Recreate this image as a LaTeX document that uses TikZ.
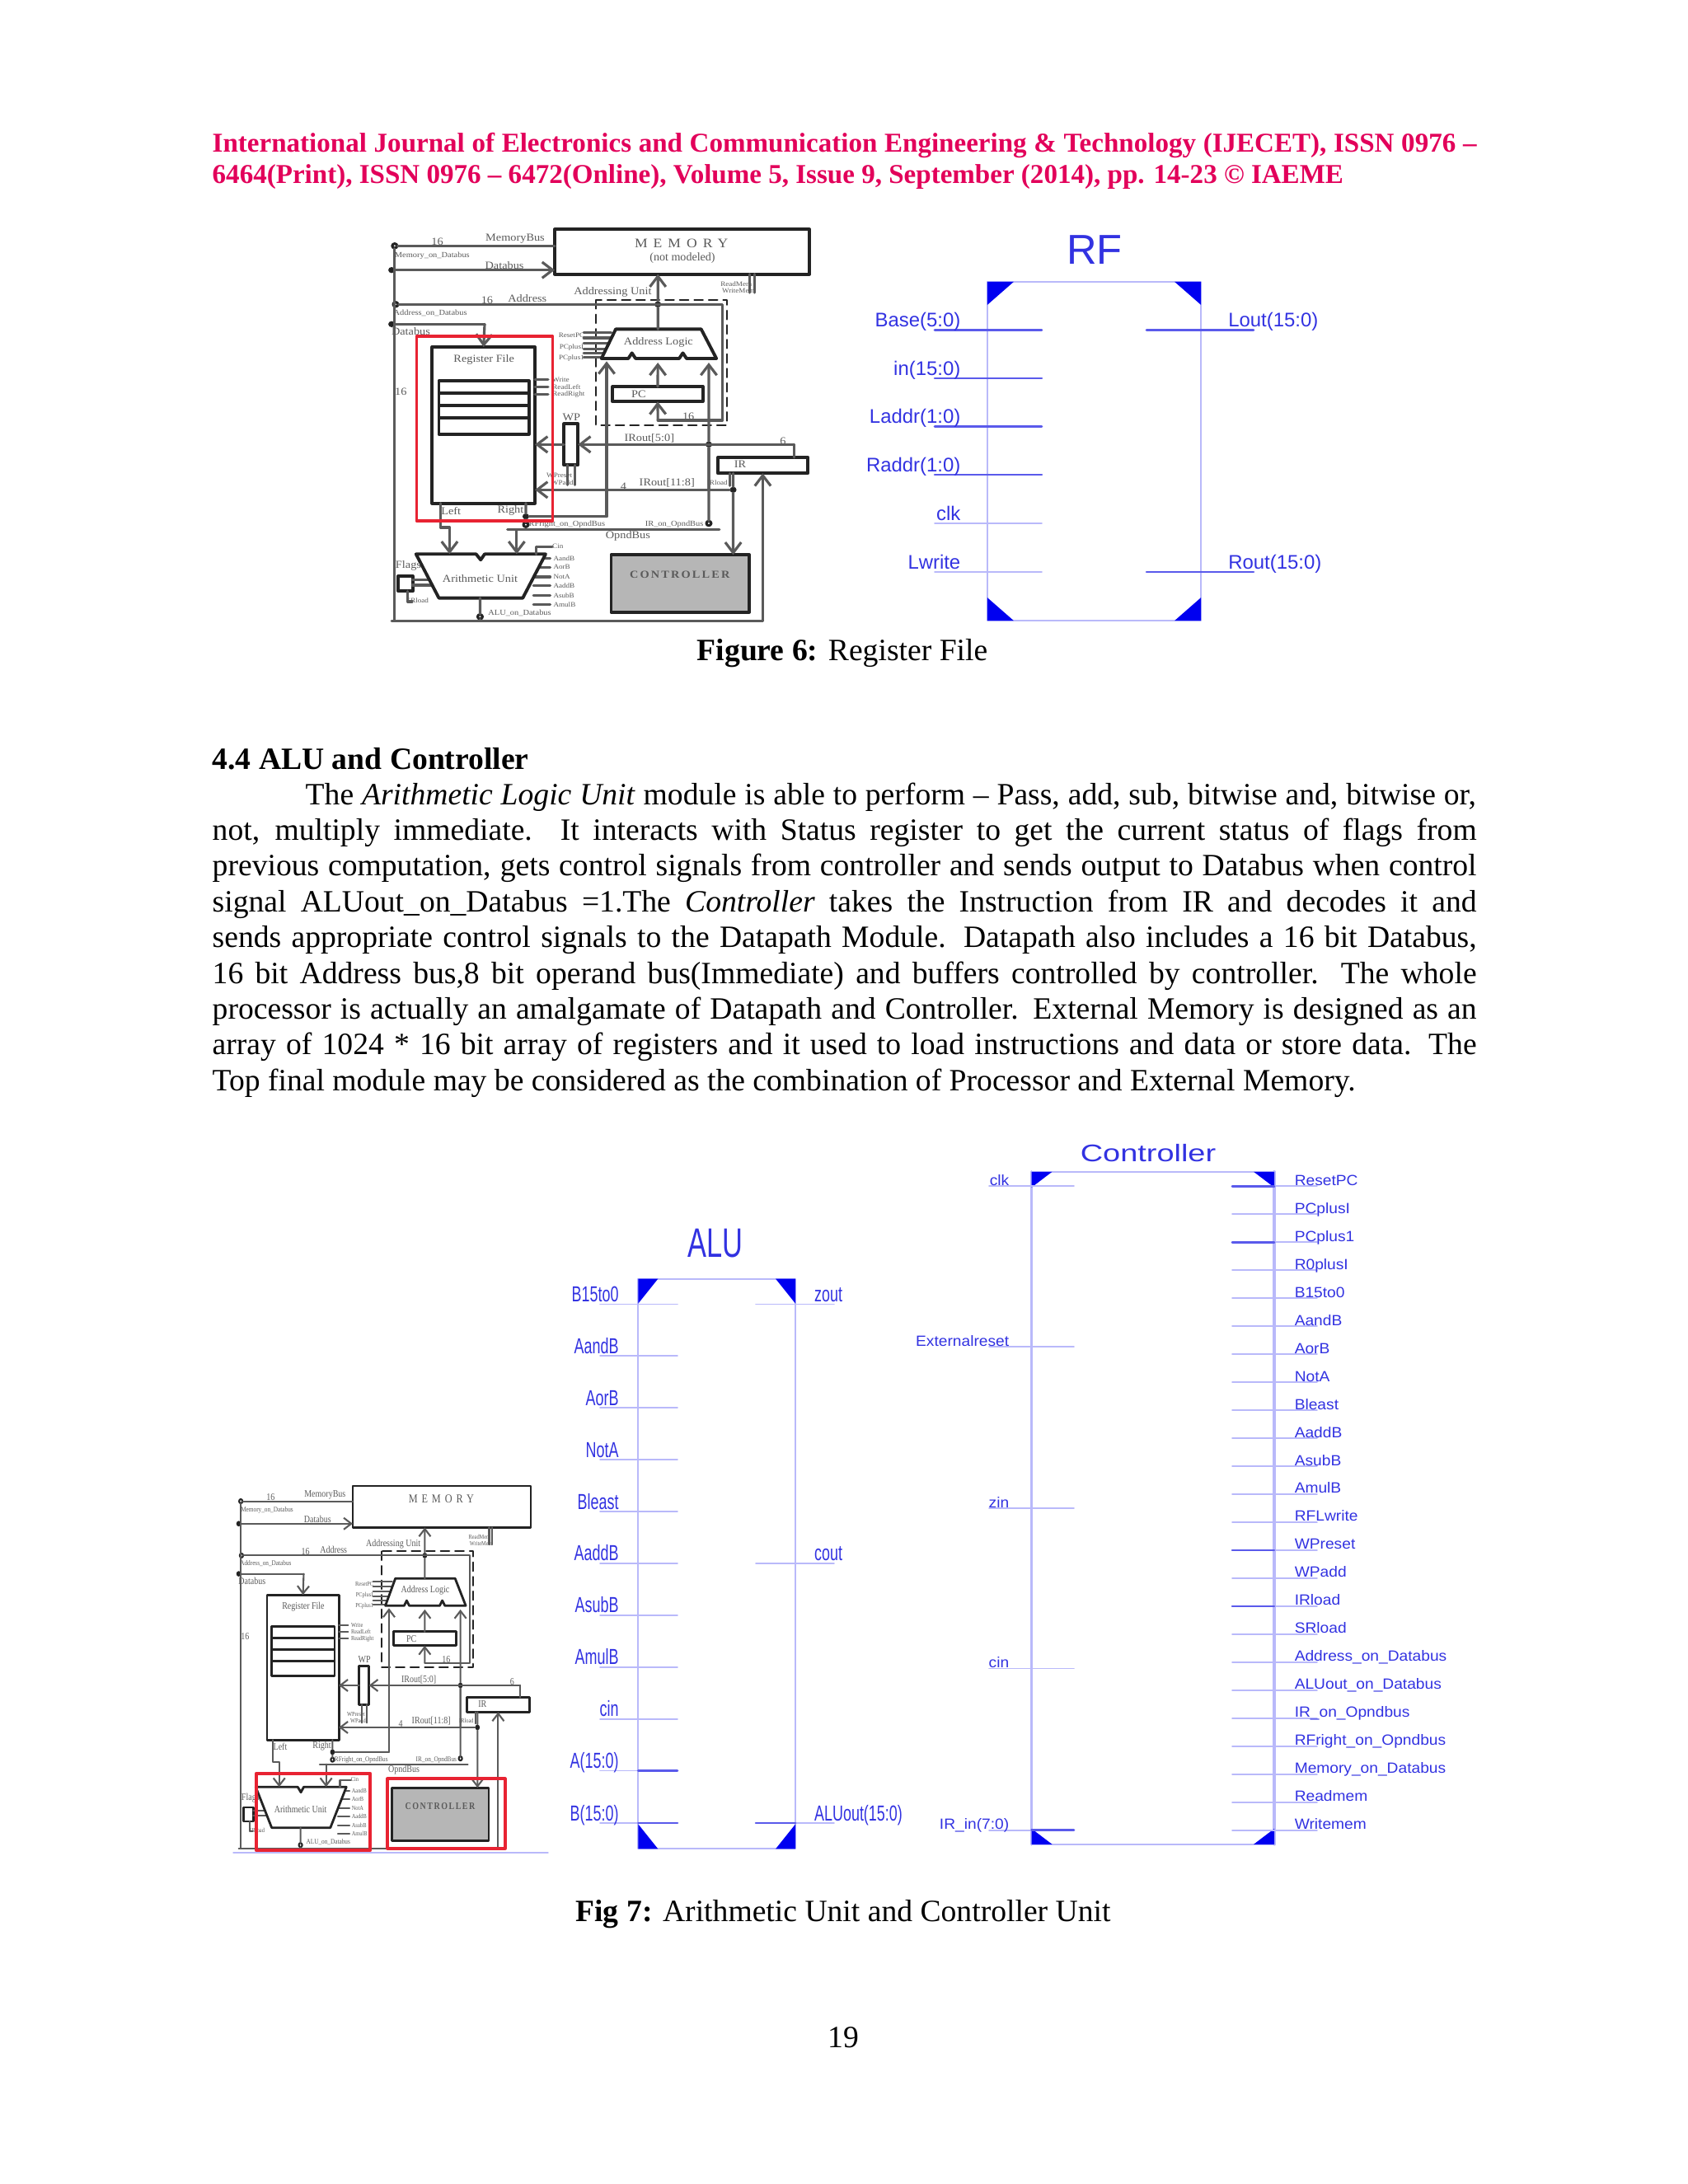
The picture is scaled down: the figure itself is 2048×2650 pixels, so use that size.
\documentclass[tikz,border=0pt]{standalone}
\usepackage{fontspec}
\setmainfont{Liberation Serif}
\newfontfamily\symfont{Liberation Sans}
\usetikzlibrary{arrows.meta}
\definecolor{headpink}{RGB}{226,0,90}
\definecolor{symblue}{RGB}{0,0,240}
\definecolor{symtext}{RGB}{50,50,225}
\definecolor{symline}{RGB}{185,185,250}
\definecolor{symbus}{RGB}{90,90,235}
\definecolor{dpgray}{RGB}{90,90,90}
\definecolor{dpdark}{RGB}{35,35,35}
\definecolor{dpfill}{RGB}{182,182,182}
\definecolor{markred}{RGB}{232,35,50}
\newcommand{\symcorners}[3]{%
\fill[symblue] (#1.north west) -- ++(#2,0) -- ++(-#2,#3) -- cycle;
\fill[symblue] (#1.north east) -- ++(-#2,0) -- ++(#2,#3) -- cycle;
\fill[symblue] (#1.south west) -- ++(#2,0) -- ++(-#2,-#3) -- cycle;
\fill[symblue] (#1.south east) -- ++(-#2,0) -- ++(#2,-#3) -- cycle;
}
\tikzset{
dpw/.store in=\dpw,dpw=.9pt,
dpb/.store in=\dpb,dpb=1.1pt,
dpwire/.style={draw=dpgray,line width=\dpw},
dpbox/.style={draw=dpdark,line width=\dpb,fill=white,inner sep=0pt,outer sep=0pt},
dpdash/.style={draw=dpdark,line width=.6pt,densely dashed},
dptext/.style={text=dpgray,inner sep=0pt,font=\fontsize{11}{12}\selectfont},
dplong/.style={text=dpgray,inner sep=0pt,font=\fontsize{8}{9}\selectfont},
dpsmall/.style={text=dpgray,inner sep=0pt,font=\fontsize{7}{8}\selectfont},
dpdot/.style={circle,fill=dpdark,inner sep=0pt,minimum size=.22cm},
dpring/.style={circle,draw=dpdark,fill=white,line width=\dpw,inner sep=0pt,minimum size=.16cm},
redbox/.style={draw=markred,line width=1.05pt,inner sep=0pt,outer sep=0pt},
symbox/.style={draw=symline,line width=.5pt,inner sep=0pt,outer sep=0pt},
symstub/.style={draw=symline,line width=.5pt},
symside/.style={draw=symline,line width=1pt},
symthick/.style={draw=symbus,line width=.75pt},
symrf/.style={text=symtext,inner sep=0pt,font=\symfont\fontsize{6.8}{8}\selectfont},
symalu/.style={text=symtext,inner sep=0pt,xscale=.68,transform shape,font=\symfont\fontsize{7.5}{9}\selectfont},
symctl/.style={text=symtext,inner sep=0pt,xscale=1.07,transform shape,font=\symfont\fontsize{5.1}{6}\selectfont},
bodyline/.style={anchor=base west,inner sep=0pt,font=\fontsize{10.7}{13}\selectfont},
headline/.style={anchor=base west,inner sep=0pt,text=headpink,font=\bfseries\fontsize{9.4}{11}\selectfont},
capline/.style={inner sep=0pt,font=\fontsize{10.7}{13}\selectfont},
datapath/.pic={
\begin{scope}[transform shape]
\coordinate (leftbus) at (95,1480);
\coordinate (irup) at (1312,1480);
\coordinate (addrturn) at (1180,328);
\coordinate (pcfeed) at (1180,750);
\coordinate (pcin) at (968,750);
\coordinate (rfdatain) at (400,400);
\coordinate (irtap) at (1415,838);
\coordinate (rfr) at (800,1100);
\coordinate (oa) at (475,1148);
\coordinate (ob) at (1170,1148);
\coordinate (lturn) at (255,1140);
\coordinate (lturnb) at (285,1140);
\node[dpring] (memring) at (105,115) {};
\node[dpring] (addrring) at (108,328) {};
\node[dpdot] (dbtop) at (95,203) {};
\node[dpdot] (dbrf) at (95,400) {};
\node[dpdot] (addrjoin) at (968,328) {};
\node[dpdot] (irjoin) at (1135,838) {};
\node[dpdot] (irlow) at (1215,1003) {};
\node[dpdot] (rfrjoin) at (535,1100) {};
\node[dpring] (rfring) at (535,1130) {};
\node[dpring] (irring) at (1135,1125) {};
\node[dpring] (aluring) at (385,1465) {};
\node[dpbox,minimum width=8.35cm,minimum height=1.63cm] (memory) at (1047.5,136.5) {};
\node[dpbox,minimum width=3.37cm,minimum height=5.69cm] (regfile) at (396.5,767.5) {};
\node[dpbox,minimum width=2.95cm,minimum height=1.93cm] (regstack) at (397.5,703.5) {};
\node[dpbox,minimum width=2.95cm,minimum height=.45cm] (regb) at (397.5,674.5) {};
\node[dpbox,minimum width=2.95cm,minimum height=.45cm] (regc) at (397.5,719.5) {};
\node[dpbox,minimum width=2.95cm,minimum height=.55cm] (pc) at (967.5,654.5) {};
\node[dpbox,minimum width=.46cm,minimum height=1.5cm] (wp) at (683,838) {};
\node[dpbox,minimum width=2.95cm,minimum height=.58cm] (ir) at (1312.5,914) {};
\node[dpbox,fill=dpfill,minimum width=4.53cm,minimum height=2.08cm] (controller) at (1041.5,1344) {};
\node[dpbox,minimum width=.47cm,minimum height=.55cm] (flags) at (140.5,1344.5) {};
\draw[dpdash] (765,312) rectangle (1195,768);
\draw[dpwire] (memring) |- (leftbus) -- (irup);
\draw[dpwire,->] (irup) -- (irup |- ir.south);
\draw[dpwire] (memring) -- (memring -| memory.west);
\draw[dpwire,->] (dbtop) -- (dbtop -| memory.west);
\draw[dpwire] (addrring) -- (addrturn) -- (pcfeed) -- (pcin);
\draw[dpwire,->] (pcin) -- (pc.south);
\draw[dpwire,->] (addrjoin) -- (addrjoin |- memory.south);
\draw[dpwire] (dbrf) -- (rfdatain);
\draw[dpwire,->] (rfdatain) -- (regfile.north);
\draw[dpwire] (ir.north -| irtap) -- (irtap);
\draw[dpwire,->] (irtap) -- (wp.east);
\draw[dpwire,->] (wp.west) -- (wp.west -| regfile.east);
\draw[dpwire] (irjoin) -- (irring);
\draw[dpwire,->] (irlow) -- (irlow -| regfile.east);
\draw[dpwire] (irlow |- ir.south) -- (irlow);
\draw[dpwire,->] (irlow) -- (irlow |- controller.north);
\draw[dpwire] (rfrjoin |- regfile.south) -- (rfrjoin);
\draw[dpwire] (rfrjoin) -- (rfring);
\draw[dpwire] (rfrjoin) -- (rfr);
\draw[dpwire] (oa) -- (ob);
\draw[dpwire] (lturn |- regfile.south) -- (lturn) -- (lturnb);
\draw[dpwire] (aluring) -- (leftbus -| aluring);
\foreach \n/\y/\lab in {1/602/Write,2/628/ReadLeft,3/655/ReadRight} {
\coordinate (rfc\n) at (565,\y);
\draw[dpwire] (rfc\n) -- ++(43,0);
\node[dpsmall,anchor=west] (rfcl\n) at (622,\y) {\lab};
}
\foreach \n/\y in {1/430,2/450,3/470,4/490,5/505,6/520} {
\coordinate (alc\n) at (725,\y);
\draw[dpwire] (alc\n) -- ++(90,0);
}
\coordinate (alt) at (968,418);
\coordinate (alna) at (800,525);
\coordinate (alnb) at (968,525);
\coordinate (alnc) at (1135,525);
\draw[dpbox] (830,418) -- (1110,418) -- (1160,525) -- (1062,525) -- (1050,505) -- (1038,525) -- (895,525) -- (883,505) -- (871,525) -- (783,525) -- cycle;
\draw[dpwire] (addrjoin) -- (alt);
\draw[dpwire,->] (rfr) -- ([yshift=-.1cm]alna);
\draw[dpwire,->] (pc.north) -- ([yshift=-.15cm]alnb);
\draw[dpwire,->] (irlow -| irjoin) -- (irjoin) -- ([yshift=-.15cm]alnc);
\coordinate (alua) at (285,1237);
\coordinate (alub) at (505,1237);
\coordinate (aluc) at (385,1397);
\foreach \n/\y/\lab in {1/1252/AandB,2/1285/AorB,3/1320/NotA,4/1352/AaddB,5/1388/AsubB,6/1420/AmulB} {
\coordinate (art\n) at (560,\y);
\draw[dpwire] (art\n) -- ++(55,0);
\node[dpsmall,anchor=west] (artl\n) at (625,\y) {\lab};
}
\draw[dpwire] (163,1330) -- (215,1330);
\draw[dpwire] (163,1350) -- (225,1350);
\draw[dpbox] (175,1237) -- (372,1237) -- (387,1258) -- (400,1237) -- (600,1237) -- (525,1397) -- (250,1397) -- cycle;
\draw[dpwire,->] (lturnb) -- (alua);
\draw[dpwire,->] (alub |- oa) -- (alub);
\draw[dpwire] (aluc) -- (aluring);
\draw[dpwire] (570,1237) |- (622,1210);
\draw[dpwire] (148,1372) |- (162,1410);
\draw[dpwire] (1270,218) -- (1270,285);
\draw[dpwire] (1285,218) -- (1285,285);
\draw[dpwire] (672,913) -- (672,985);
\draw[dpwire] (697,913) -- (697,985);
\draw[dpwire] (1205,943) -- (1205,988);
\node[dptext,font=\fontsize{13.5}{15}\selectfont] (memlabel) at (1045,105) {\addfontfeatures{LetterSpace=40}MEMORY};
\node[dptext] (ctllabel) at (1040,1313) {\addfontfeatures{LetterSpace=15}\bfseries CONTROLLER};
\node[dptext] (rftitle) at (398,530) {Register File};
\node[dptext] (altitle) at (970,465) {Address Logic};
\node[dptext] (autitle) at (385,1325) {Arithmetic Unit};
\node[dptext] (pctitle) at (905,655) {PC};
\node[dptext] (irtitle) at (1238,910) {IR};
\node[dptext] (wptitle) at (685,738) {WP};
\node[dptext] (membus) at (500,90) {MemoryBus};
\node[dptext] (dbusa) at (465,185) {Databus};
\node[dptext] (addrl) at (540,305) {Address};
\node[dptext] (adunit) at (820,283) {Addressing Unit};
\node[dptext] (dbusb) at (158,427) {Databus};
\node[dptext] (irouta) at (940,815) {IRout[5:0]};
\node[dptext] (iroutb) at (998,978) {IRout[11:8]};
\node[dptext] (leftl) at (290,1080) {Left};
\node[dptext] (rightl) at (485,1078) {Right};
\node[dptext] (opnd) at (870,1170) {OpndBus};
\node[dptext] (flagl) at (150,1280) {Flags};
\node[dplong] (rfronl) at (670,1130) {RFright\_on\_OpndBus};
\node[dplong] (ironl) at (1022,1130) {IR\_on\_OpndBus};
\node[dplong] (aluonl) at (515,1453) {ALU\_on\_Databus};
\node[dplong] (memonl) at (228,150) {Memory\_on\_Databus};
\node[dplong] (addronl) at (222,360) {Address\_on\_Databus};
\node[dptext] (n16a) at (245,100) {16};
\node[dptext] (n16b) at (408,312) {16};
\node[dptext] (n16c) at (1068,737) {16};
\node[dptext] (n16d) at (125,645) {16};
\node[dptext] (n6) at (1378,825) {6};
\node[dptext] (n4) at (855,990) {4};
\node[dpsmall] (rdm) at (1225,255) {ReadMem};
\node[dpsmall] (wrm) at (1232,280) {WriteMem};
\node[dpsmall] (rpc) at (685,440) {ResetPC};
\node[dpsmall] (pci) at (685,485) {PCplusI};
\node[dpsmall] (pc1) at (685,525) {PCplus1};
\node[dpsmall] (wpr) at (645,950) {WPreset};
\node[dpsmall] (wpa) at (655,977) {WPadd};
\node[dpsmall] (irl) at (1163,978) {IRload};
\node[dpsmall] (cinl) at (640,1208) {Cin};
\node[dpsmall] (srl) at (180,1407) {SRload};
\end{scope}
}
}
\begin{document}
\begin{tikzpicture}[x=0.01cm,y=-0.01cm,>={Straight Barb[length=3.6pt,width=5.5pt]},line cap=round,line join=round]
\useasboundingbox (0,0) rectangle (2048,2650);
\node[headline] (heada) at (257,184) {\makebox[15.33cm][s]{International Journal of Electronics and Communication Engineering \& Technology (IJECET), ISSN 0976 –}};
\node[headline] (headb) at (257,222.5) {6464(Print), ISSN 0976 – 6472(Online), Volume 5, Issue 9, September (2014), pp. 14-23 © IAEME};
\pic (cpua) [shift={(440,260)},xscale=.37,yscale=.3333] {datapath};
\node[dptext] (notmod) at (828,313) {\fontsize{4}{5}\selectfont (not modeled)};
\node[redbox,minimum width=1.65cm,minimum height=2.24cm] (rfmark) at (588,520) {};
\node[symbox,minimum width=2.59cm,minimum height=4.11cm] (rf) at (1327.5,547.5) {};
\symcorners{rf}{32}{28}
\node[text=symtext,inner sep=0pt,font=\symfont\fontsize{14.4}{16}\selectfont] (rfname) at (1328,303) {RF};
\foreach \n/\y/\lab in {1/400.7/Base(5:0),2/459/in(15:0),3/517.3/Laddr(1:0),4/576/Raddr(1:0)} {
\coordinate (rfa\n) at (1134,\y);
\coordinate (rfb\n) at (1264,\y);
\draw[symthick] (rfa\n) -- (rfb\n);
\node[symrf,anchor=base east] (rfin\n) at (1166,\y-4) {\lab};
}
\foreach \n/\y/\lab in {5/635/clk,6/694/Lwrite} {
\coordinate (rfa\n) at (1134,\y);
\coordinate (rfb\n) at (1264,\y);
\draw[symstub] (rfa\n) -- (rfb\n);
\node[symrf,anchor=base east] (rfin\n) at (1166,\y-4) {\lab};
}
\foreach \n/\y/\lab in {1/400.7/Lout(15:0),2/694/Rout(15:0)} {
\coordinate (rfc\n) at (1391,\y);
\coordinate (rfd\n) at (1521,\y);
\draw[symthick] (rfc\n) -- (rfd\n);
\node[symrf,anchor=base west] (rfout\n) at (1489.6,\y-4) {\lab};
}
\node[capline] (figa) at (1022,793) {\textbf{Figure 6:} Register File};
\node[bodyline,font=\bfseries\fontsize{10.7}{13}\selectfont] (sect) at (257,933) {4.4 ALU and Controller};
\node[bodyline] (body0) at (370,976) {\makebox[14.195cm][s]{The \textit{Arithmetic Logic Unit} module is able to perform – Pass, add, sub, bitwise and, bitwise or,}};
\foreach \n/\y/\bt in {
1/1019.4/{not, multiply immediate. It interacts with Status register to get the current status of flags from},
2/1062.8/{previous computation, gets control signals from controller and sends output to Databus when control},
3/1106.2/{signal ALUout\_on\_Databus =1.The \textit{Controller} takes the Instruction from IR and decodes it and},
4/1149.6/{sends appropriate control signals to the Datapath Module. Datapath also includes a 16 bit Databus,},
5/1193/{16 bit Address bus,8 bit operand bus(Immediate) and buffers controlled by controller. The whole},
6/1236.4/{processor is actually an amalgamate of Datapath and Controller. External Memory is designed as an},
7/1279.8/{array of 1024 * 16 bit array of registers and it used to load instructions and data or store data. The}} {
\node[bodyline] (body\n) at (257,\y) {\makebox[15.33cm][s]{\bt}};
}
\node[bodyline] (body8) at (257,1323.2) {Top final module may be considered as the combination of Processor and External Memory.};
\pic (cpub) [shift={(265,1786)},xscale=.2587,yscale=.309,dpw=.6pt,dpb=.8pt,>={Straight Barb[length=2.6pt,width=4pt]}] {datapath};
\node[redbox] (alumark) [minimum width=1.383cm,minimum height=.933cm] at (380,2198.5) {};
\node[redbox] (ctlmark) [minimum width=1.427cm,minimum height=.847cm] at (541.5,2200.5) {};
\draw[symline] (283,2248) -- (665,2248);
\node[symbox,minimum width=1.907cm,minimum height=6.912cm] (alu) at (869.7,1897.5) {};
\symcorners{alu}{24}{30}
\node[text=symtext,inner sep=0pt,xscale=.69,transform shape,font=\symfont\fontsize{14.2}{16}\selectfont] (aluname) at (868,1508.5) {ALU};
\foreach \n/\y/\lab in {1/1582.4/B15to0,2/1645.3/AandB,3/1708.2/AorB,4/1771.1/NotA,5/1834/Bleast,6/1896.9/AaddB,7/1959.8/AsubB,8/2022.7/AmulB,9/2085.6/cin,10/2148.5/A(15:0),11/2212/B(15:0)} {
\coordinate (alua\n) at (728,\y);
\coordinate (alub\n) at (822,\y);
\draw[symstub] (alua\n) -- (alub\n);
\node[symalu,anchor=base east] (aluin\n) at (751,\y-3) {\lab};
}
\draw[symthick] (alu.west |- alub10) -- (alub10);
\draw[symthick] (alu.west |- alub11) -- (alub11);
\foreach \n/\y/\lab in {1/1582.4/zout,2/1896.9/cout,3/2212/ALUout(15:0)} {
\coordinate (aluc\n) at (917,\y);
\coordinate (alud\n) at (1012,\y);
\draw[symstub] (aluc\n) -- (alud\n);
\node[symalu,anchor=base west] (aluout\n) at (987.7,\y-3) {\lab};
}
\draw[symthick] (aluc3) -- (alu.east |- aluc3);
\node[symbox,minimum width=2.943cm,minimum height=8.156cm] (ctl) at (1398.8,1829.8) {};
\draw[symside] (ctl.north west) -- (ctl.south west);
\draw[symside] (ctl.north east) -- (ctl.south east);
\symcorners{ctl}{25}{19}
\node[text=symtext,inner sep=0pt,xscale=1.3,transform shape,font=\symfont\fontsize{8.3}{10}\selectfont] (ctlname) at (1393,1399.5) {Controller};
\foreach \n/\y/\lab in {1/1439.3/clk,2/1634/Externalreset,3/1830/zin,4/2024.5/cin,5/2220.6/IR\_in(7:0)} {
\coordinate (ctla\n) at (1200,\y);
\coordinate (ctlb\n) at (1303,\y);
\draw[symstub] (ctla\n) -- (ctlb\n);
\node[symctl,anchor=base east] (ctlin\n) at (1225,\y-1) {\lab};
}
\draw[symthick] (ctl.west |- ctlb5) -- (ctlb5);
\foreach \n/\lab in {0/ResetPC,1/PCplusI,2/PCplus1,3/R0plusI,4/B15to0,5/AandB,6/AorB,7/NotA,8/Bleast,9/AaddB,10/AsubB,11/AmulB,12/RFLwrite,13/WPreset,14/WPadd,15/IRload,16/SRload,17/Address\_on\_Databus,18/ALUout\_on\_Databus,19/IR\_on\_Opndbus,20/RFright\_on\_Opndbus,21/Memory\_on\_Databus,22/Readmem,23/Writemem} {
\coordinate (ctlc\n) at (1495,1439.3+33.97*\n);
\coordinate (ctld\n) at (1598,1439.3+33.97*\n);
\draw[symstub] (ctlc\n) -- (ctld\n);
\node[symctl,anchor=base west] (ctlout\n) at (1570,1438.3+33.97*\n) {\lab};
}
\draw[symthick] (ctlc0) -- (ctl.east |- ctlc0);
\draw[symthick] (ctlc2) -- (ctl.east |- ctlc2);
\draw[symthick] (ctlc13) -- (ctl.east |- ctlc13);
\draw[symthick] (ctlc15) -- (ctl.east |- ctlc15);
\node[capline] (figb) at (1023,2323) {\textbf{Fig 7:} Arithmetic Unit and Controller Unit};
\node[capline] (pageno) at (1023,2472) {19};
\end{tikzpicture}
\end{document}
